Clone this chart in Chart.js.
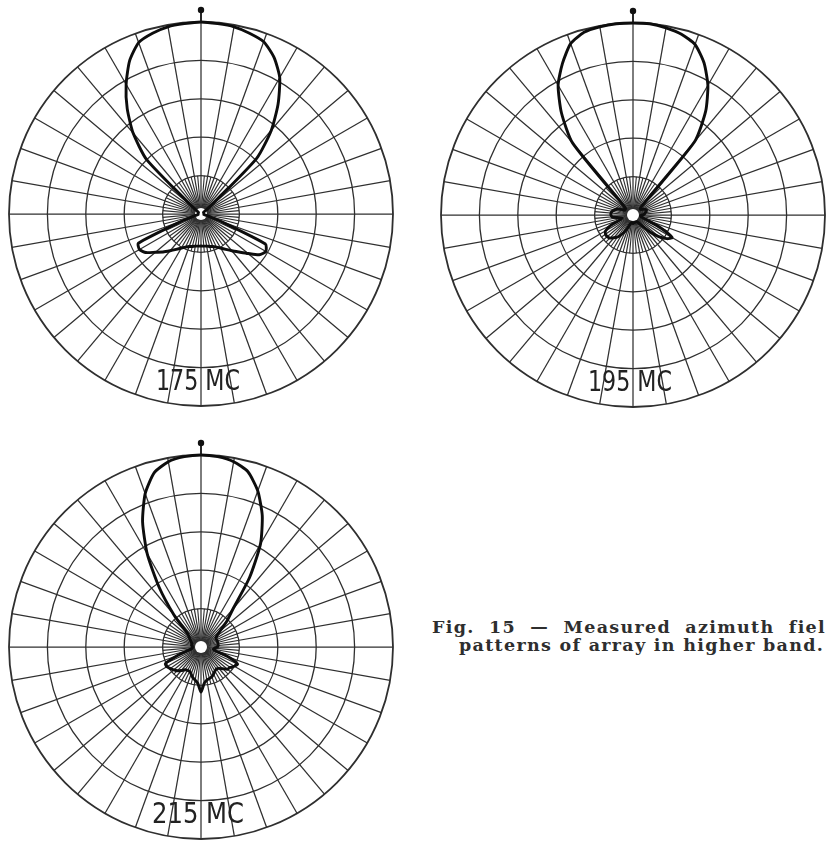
<!DOCTYPE html>
<html><head><meta charset="utf-8">
<script src="https://cdn.jsdelivr.net/npm/chart.js@4.4.1/dist/chart.umd.min.js"></script>
<style>
html,body{margin:0;padding:0;background:#fff;width:826px;height:843px;overflow:hidden;position:relative;}
.pc{position:absolute;width:424px;height:424px;}
.cap{position:absolute;font-family:'DejaVu Serif',serif;font-weight:bold;font-size:17.5px;letter-spacing:1.3px;color:#2e2e2e;white-space:nowrap;line-height:18px;}
</style></head><body>
<div class="pc" style="left:-11px;top:2px"><canvas id="c1" width="424" height="424"></canvas></div>
<div class="pc" style="left:421px;top:3px"><canvas id="c2" width="424" height="424"></canvas></div>
<div class="pc" style="left:-11px;top:435px"><canvas id="c3" width="424" height="424"></canvas></div>
<div class="cap" id="cap1" style="left:432px;top:618px;word-spacing:7px"></div>
<div class="cap" id="cap2" style="left:459px;top:636px"></div>
<script>
// azimuth (degrees, clockwise from the arrow at top), 5-degree steps
const angles = ['0','5','10','15','20','25','30','35','40','45','50','55','60','65','70','75','80','85',
'90','95','100','105','110','115','120','125','130','135','140','145','150','155','160','165','170','175',
'180','185','190','195','200','205','210','215','220','225','230','235','240','245','250','255','260','265',
'270','275','280','285','290','295','300','305','310','315','320','325','330','335','340','345','350','355'];

// relative field strength (outer circle = 1.0)
const mc175 = [1.00,0.995,0.99,0.975,0.955,0.90,0.82,0.70,0.57,0.41,0.07,0.02,
0.015,0.015,0.015,0.015,0.015,0.015,0.015,0.015,0.015,0.03,0.10,0.37,
0.39,0.37,0.32,0.28,0.25,0.225,0.205,0.19,0.18,0.175,0.17,0.168,
0.167,0.168,0.17,0.175,0.18,0.19,0.205,0.225,0.25,0.28,0.31,0.35,
0.37,0.36,0.10,0.03,0.015,0.015,0.015,0.015,0.015,0.015,0.015,0.015,
0.015,0.02,0.06,0.40,0.55,0.67,0.78,0.88,0.95,0.975,0.99,0.995];

const mc195 = [1.00,1.00,0.99,0.975,0.945,0.875,0.78,0.66,0.50,0.06,0.05,0.05,
0.06,0.07,0.075,0.07,0.065,0.06,0.05,0.04,0.04,0.05,0.08,0.16,
0.235,0.215,0.175,0.125,0.075,0.05,0.04,0.04,0.04,0.04,0.04,0.04,
0.045,0.04,0.04,0.045,0.06,0.09,0.115,0.14,0.155,0.17,0.175,0.175,
0.165,0.13,0.07,0.06,0.08,0.11,0.115,0.115,0.11,0.10,0.09,0.07,
0.05,0.05,0.05,0.07,0.49,0.65,0.78,0.87,0.95,0.985,0.995,1.00];

const mc215 = [1.00,0.995,0.98,0.945,0.865,0.755,0.62,0.44,0.26,0.19,0.13,0.10,
0.09,0.09,0.09,0.09,0.09,0.09,0.085,0.07,0.065,0.08,0.15,0.21,
0.20,0.185,0.18,0.16,0.145,0.14,0.145,0.155,0.165,0.17,0.175,0.19,
0.235,0.19,0.175,0.165,0.15,0.14,0.14,0.145,0.16,0.175,0.185,0.195,
0.205,0.205,0.13,0.07,0.05,0.045,0.045,0.045,0.05,0.05,0.05,0.055,
0.06,0.07,0.08,0.10,0.22,0.38,0.56,0.72,0.85,0.94,0.98,0.995];

const ringTicks = [0, 0.2, 0.4, 0.6, 0.8, 1.0];
const plotLabels = ['175 MC', '195 MC', '215 MC'];
const captionLines = ['Fig. 15 \u2014 Measured azimuth field', 'patterns of array in higher band.'];

document.getElementById('cap1').textContent = captionLines[0];
document.getElementById('cap2').textContent = captionLines[1];

const GRID = '#2f2f2f';

function decorPlugin(label, maxW) {
  return {
    id: 'decor',
    beforeDatasetsDraw(chart) {
      const s = chart.scales.r;
      const ctx = chart.ctx;
      ctx.save();
      // finer spokes inside the innermost ring
      ctx.strokeStyle = GRID; ctx.lineWidth = 1.1;
      for (let i = 1; i < angles.length; i += 2) {
        const p = s.getPointPositionForValue(i, ringTicks[1]);
        ctx.beginPath(); ctx.moveTo(s.xCenter, s.yCenter); ctx.lineTo(p.x, p.y); ctx.stroke();
      }
      // blank hub
      ctx.fillStyle = '#fff';
      ctx.beginPath(); ctx.arc(s.xCenter, s.yCenter, 6, 0, Math.PI * 2); ctx.fill();
      ctx.restore();
    },
    afterDraw(chart) {
      const s = chart.scales.r;
      const ctx = chart.ctx;
      const R = s.drawingArea;
      ctx.save();
      // arrow marker at top
      ctx.strokeStyle = '#111'; ctx.fillStyle = '#111'; ctx.lineWidth = 1.8;
      ctx.beginPath(); ctx.moveTo(s.xCenter, s.yCenter - R); ctx.lineTo(s.xCenter, s.yCenter - R - 13); ctx.stroke();
      ctx.beginPath(); ctx.arc(s.xCenter, s.yCenter - R - 12, 3.2, 0, Math.PI * 2); ctx.fill();
      // frequency label
      ctx.fillStyle = '#222';
      ctx.font = "29px 'DejaVu Sans Condensed', 'DejaVu Sans', sans-serif";
      ctx.textAlign = 'center'; ctx.textBaseline = 'alphabetic';
      ctx.fillText(label, s.xCenter - 3, s.yCenter + R * 0.915, maxW);
      ctx.restore();
    }
  };
}

function makeChart(id, data, label, maxW) {
  return new Chart(document.getElementById(id), {
    type: 'radar',
    data: { labels: angles, datasets: [{ data: data, borderColor: '#0d0d0d', borderWidth: 2.9,
      fill: false, pointRadius: 0, pointHoverRadius: 0, tension: 0.2 }] },
    options: {
      responsive: false, animation: false, events: [],
      layout: { padding: 20 },
      plugins: { legend: { display: false }, tooltip: { enabled: false } },
      scales: { r: {
        min: 0, max: 1, startAngle: 0,
        ticks: { display: false, stepSize: 0.2 },
        pointLabels: { display: false },
        grid: { circular: true, color: GRID, lineWidth: c => c.index === ringTicks.length - 1 ? 1.8 : 1.3 },
        angleLines: { display: true,
          color: c => c.index % 2 === 0 ? GRID : 'rgba(0,0,0,0)',
          lineWidth: c => c.index % 2 === 0 ? 1.25 : 0 }
      } }
    },
    plugins: [decorPlugin(label, maxW)]
  });
}

makeChart('c1', mc175, plotLabels[0], 84);
makeChart('c2', mc195, plotLabels[1], 84);
makeChart('c3', mc215, plotLabels[2], 92);
</script>
</body></html>
